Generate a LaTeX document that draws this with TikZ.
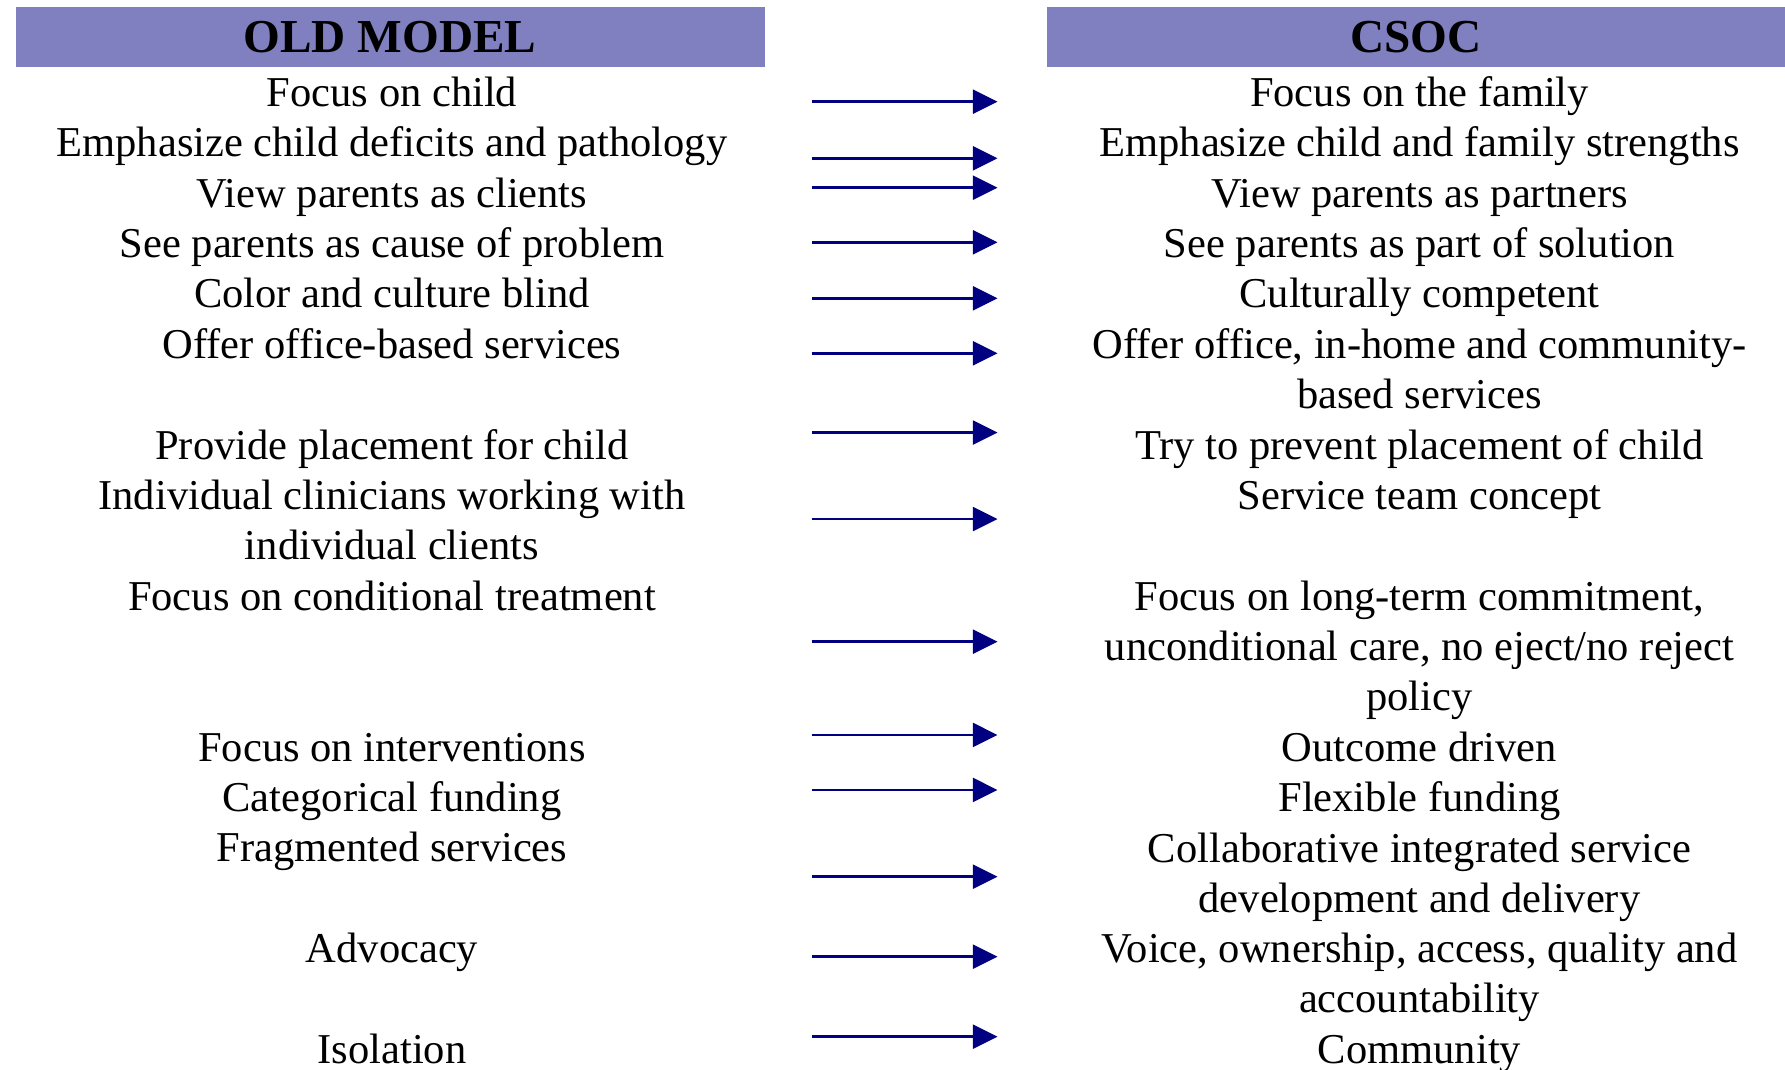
\documentclass[tikz,border=0pt]{standalone}
\usepackage{fontspec}
\setmainfont{Liberation Serif}
\usepackage{tikz}
\usetikzlibrary{arrows.meta, positioning}
\definecolor{headblue}{RGB}{128,128,192}
\definecolor{arrblue}{RGB}{0,0,128}
\newcommand{\itemfont}{\fontsize{24.2pt}{28.55pt}\selectfont}
\newcommand{\headfont}{\fontsize{26.9pt}{30pt}\selectfont\bfseries}
\newcommand{\drawa}{\draw[line width=1.5pt, color=arrblue]}
\tikzset{
  head/.style={fill=headblue, minimum height=1.2cm, inner sep=0pt, font=\headfont},
  item/.style={anchor=base, align=center, inner sep=0pt, font=\itemfont}
}

\begin{document}
\begin{tikzpicture}[>={Triangle[length=14pt,width=13.6pt]}]
\useasboundingbox (0,0) rectangle (35.7,21.4);
% Tiêu đề hai cột
\node[head, minimum width=14.98cm] (oldhead) at (7.80,20.665) {OLD MODEL};
\node[head, minimum width=14.76cm] (csochead) at (28.32,20.665) {CSOC};

% Cột trái (\k = dòng cuối của mục)
\foreach \k/\txt [count=\i] in {0/Focus on child, 1/Emphasize child deficits and pathology,
  2/View parents as clients, 3/See parents as cause of problem, 4/Color and culture blind,
  5/Offer office-based services, 7/Provide placement for child,
  9/{Individual clinicians working with\\individual clients}, 10/Focus on conditional treatment,
  13/Focus on interventions, 14/Categorical funding, 15/Fragmented services,
  17/Advocacy, 19/Isolation}
  \node[item] (old\i) at (7.84,{19.27-1.0072*\k}) {\txt};

% Cột phải
\foreach \k/\txt [count=\i] in {0/Focus on the family, 1/Emphasize child and family strengths,
  2/View parents as partners, 3/See parents as part of solution, 4/Culturally competent,
  6/{Offer office, in-home and community-\\based services}, 7/Try to prevent placement of child,
  8/Service team concept,
  12/{Focus on long-term commitment,\\unconditional care, no eject/no reject\\policy},
  13/Outcome driven, 14/Flexible funding,
  16/{Collaborative integrated service\\development and delivery},
  18/{Voice, ownership, access, quality and\\accountability}, 19/Community}
  \node[item] (new\i) at (28.39,{19.27-1.0072*\k}) {\txt};

% Mũi tên
\foreach \y [count=\i] in {19.366, 18.234, 17.646, 16.554, 15.434, 14.334, 12.748,
  11.018, 8.566, 6.7, 5.6, 3.866, 2.266, 0.666} {
  \coordinate (a\i) at (16.23,\y);
  \coordinate (b\i) at (19.95,\y);
  \drawa[->] (a\i) -- (b\i);
}
\end{tikzpicture}
\end{document}
